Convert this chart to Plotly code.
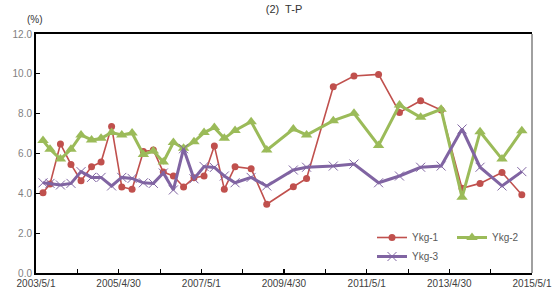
import plotly.graph_objects as go

dates = ["2003-07-02", "2003-09-02", "2003-12-03", "2004-03-05", "2004-06-02", "2004-09-03",
         "2004-11-26", "2005-02-27", "2005-05-28", "2005-08-27", "2005-12-05", "2006-03-03",
         "2006-05-30", "2006-08-27", "2006-11-25", "2007-02-25", "2007-05-25", "2007-08-24",
         "2007-11-20", "2008-02-23", "2008-07-14", "2008-11-29", "2009-07-22", "2009-11-16",
         "2010-07-10", "2011-01-09", "2011-08-14", "2012-02-15", "2012-08-20", "2013-02-17",
         "2013-08-21", "2014-01-27", "2014-08-09", "2015-01-31"]

ykg1 = [4.03, 4.47, 6.48, 5.45, 4.63, 5.34, 5.57, 7.35, 4.32, 4.20, 6.10, 6.17, 5.07, 4.87,
        4.32, 4.78, 4.87, 6.38, 4.21, 5.34, 5.24, 3.45, 4.33, 4.75, 9.35, 9.89, 9.97, 8.06,
        8.65, 8.18, 4.25, 4.50, 5.05, 3.93]
ykg2 = [6.65, 6.21, 5.72, 6.21, 6.93, 6.68, 6.76, 7.05, 6.93, 7.03, 5.95, 6.12, 5.57, 6.55,
        6.26, 6.59, 7.05, 7.30, 6.76, 7.16, 7.60, 6.17, 7.23, 6.93, 7.65, 8.02, 6.40, 8.43,
        7.82, 8.22, 3.80, 7.09, 5.72, 7.14]
ykg3 = [4.53, 4.50, 4.42, 4.50, 5.09, 4.80, 4.80, 4.37, 4.80, 4.75, 4.53, 4.50, 5.02, 4.17,
        6.24, 4.73, 5.35, 5.30, 4.87, 4.53, 4.80, 4.37, 5.17, 5.31, 5.37, 5.47, 4.53, 4.87,
        5.31, 5.37, 7.23, 5.31, 4.37, 5.09]

tick_vals = ["2003-05-01", "2005-04-30", "2007-05-01", "2009-04-30", "2011-05-01", "2013-04-30", "2015-05-01"]
tick_text = ["2003/5/1", "2005/4/30", "2007/5/1", "2009/4/30", "2011/5/1", "2013/4/30", "2015/5/1"]
y_ticks = [0, 2, 4, 6, 8, 10, 12]

RED = "#C0504D"
GREEN = "#9BBB59"
PURPLE = "#8064A2"
FONT = "Liberation Sans"

fig = go.Figure()
fig.add_trace(go.Scatter(x=dates, y=ykg1, name="Ykg-1", mode="lines+markers",
                         line=dict(color=RED, width=1.6),
                         marker=dict(symbol="circle", size=7, color=RED),
                         legend="legend"))
fig.add_trace(go.Scatter(x=dates, y=ykg2, name="Ykg-2", mode="lines+markers",
                         line=dict(color=GREEN, width=3),
                         marker=dict(symbol="triangle-up", size=10, color=GREEN),
                         legend="legend2"))
fig.add_trace(go.Scatter(x=dates, y=ykg3, name="Ykg-3", mode="lines+markers",
                         line=dict(color=PURPLE, width=3),
                         marker=dict(symbol="x-thin-open", size=9, color=PURPLE,
                                     line=dict(color=PURPLE, width=1)),
                         legend="legend"))

fig.update_layout(
    width=556, height=293,
    margin=dict(l=36, r=24, t=34, b=20, autoexpand=False),
    paper_bgcolor="white", plot_bgcolor="white",
    font=dict(family=FONT, size=10, color="#595959"),
    title=dict(text="(2)  T-P", x=(36 + 532) / 2 / 556, xanchor="center",
               y=1 - 9 / 293, yanchor="middle", automargin=False,
               font=dict(family=FONT, size=11, color="#333333")),
    xaxis=dict(type="date", range=["2003-05-01", "2015-05-01"], automargin=False,
               tickmode="array", tickvals=tick_vals, ticktext=tick_text,
               ticks="inside", ticklen=4, tickcolor="#000000", tickwidth=1,
               showline=True, linecolor="#000000", linewidth=1.5, mirror=True,
               showgrid=False, zeroline=False,
               tickfont=dict(family=FONT, size=10, color="#404040"),
               minor=dict(ticks="inside", ticklen=4, tickcolor="#000000",
                          tick0="2003-05-01", dtick="M12", showgrid=False)),
    yaxis=dict(range=[0, 12], tickmode="array", tickvals=y_ticks, automargin=False,
               tickformat=".1f", ticks="inside", ticklen=4, tickcolor="#000000",
               showline=True, linecolor="#000000", linewidth=2, mirror=False,
               showgrid=False, zeroline=False,
               tickfont=dict(family=FONT, size=10, color="#7f7f7f")),
    legend=dict(x=(372 - 36) / 496, xanchor="left", y=(273 - 223) / 239, yanchor="top",
                bgcolor="rgba(0,0,0,0)", font=dict(family=FONT, size=10, color="#595959"),
                tracegroupgap=0, itemwidth=30),
    legend2=dict(x=(452 - 36) / 496, xanchor="left", y=(273 - 223) / 239, yanchor="top",
                 bgcolor="rgba(0,0,0,0)", font=dict(family=FONT, size=10, color="#595959"),
                 itemwidth=30),
    showlegend=True,
)

fig.add_shape(type="line", xref="paper", yref="paper", x0=1, x1=1, y0=0, y1=1,
              line=dict(color="#808080", width=1.5))
fig.add_annotation(text="(%)", xref="paper", yref="paper", x=-0.002, y=(273 - 19) / 239,
                   xanchor="center", yanchor="middle", showarrow=False,
                   font=dict(family=FONT, size=10, color="#333333"))

fig.write_html("out.html", config={"displayModeBar": False},
               post_script="document.body.style.margin='0';document.body.style.padding='0';")
